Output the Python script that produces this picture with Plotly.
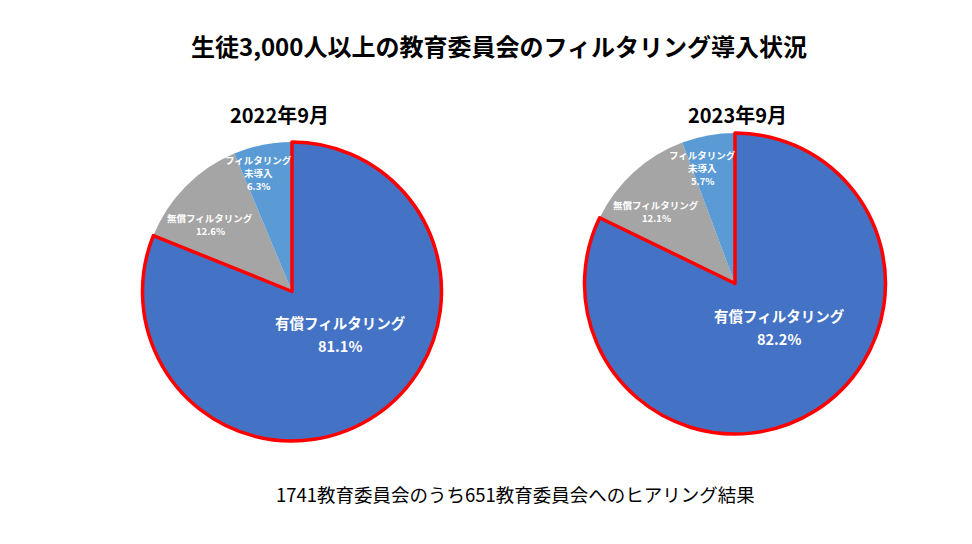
import plotly.graph_objects as go

W, H = 972, 544
OFF = 8  # page body margin in the browser
categories = ["有償フィルタリング", "無償フィルタリング", "フィルタリング未導入"]
values_2022 = [81.1, 12.6, 6.3]
values_2023 = [82.2, 12.1, 5.7]
periods = ["2022年9月", "2023年9月"]
colors = ["#4472C4", "#A5A5A5", "#5B9BD5"]

FONT = "Noto Sans CJK JP"

def px(x, y):
    return (x - OFF) / W, 1 - (y - OFF) / H

def dom(x0, x1, y0, y1):
    a, b = px(x0, y1)
    c, d = px(x1, y0)
    return dict(x=[a, c], y=[b, d])

domains = [dom(142, 442, 142, 441), dom(584, 886, 133, 434)]

fig = go.Figure()
for vals, dm in zip([values_2022, values_2023], domains):
    fig.add_trace(go.Pie(
        labels=categories, values=vals, domain=dm, sort=False,
        direction="clockwise", rotation=0, textinfo="none",
        marker=dict(colors=colors, line=dict(width=0)),
        showlegend=False, hoverinfo="label+percent",
    ))
    fig.add_trace(go.Pie(
        labels=categories, values=vals, domain=dm, sort=False,
        direction="clockwise", rotation=0, textinfo="none",
        marker=dict(colors=["rgba(0,0,0,0)"] * 3,
                    line=dict(color=["#FF0000", "rgba(0,0,0,0)", "rgba(0,0,0,0)"],
                              width=[3.5, 0, 0])),
        showlegend=False, hoverinfo="skip",
    ))

ann = []

def add(text, x, y, size, color="#000000", bold=False):
    xx, yy = px(x, y)
    t = f"<b>{text}</b>" if bold else text
    ann.append(dict(text=t, x=xx, y=yy, xref="paper", yref="paper",
                    xanchor="center", yanchor="middle", showarrow=False,
                    borderpad=0,
                    font=dict(family=FONT, size=size, color=color)))

add("生徒3,000人以上の教育委員会のフィルタリング導入状況", 499, 46, 24, bold=True)
add(periods[0], 279, 115, 20, bold=True)
add(periods[1], 737, 115, 20, bold=True)
add("1741教育委員会のうち651教育委員会へのヒアリング結果", 516, 494, 18.5)

labs = [
    [([categories[0], f"{values_2022[0]}%"], 340, [322, 345], 14.5),
     ([categories[1], f"{values_2022[1]}%"], 210, [218, 231], 9.5),
     (["フィルタリング", "未導入", f"{values_2022[2]}%"], 258, [160, 173, 186], 9.5)],
    [([categories[0], f"{values_2023[0]}%"], 779, [315, 338], 14.5),
     ([categories[1], f"{values_2023[1]}%"], 656, [205, 218], 9.5),
     (["フィルタリング", "未導入", f"{values_2023[2]}%"], 702, [155, 168, 181], 9.5)],
]
for grp in labs:
    for lines, x, ys, s in grp:
        for t, y in zip(lines, ys):
            add(t, x, y, s, color="#FFFFFF", bold=True)

fig.update_layout(
    width=W, height=H, margin=dict(l=0, r=0, t=0, b=0),
    paper_bgcolor="#FFFFFF", plot_bgcolor="#FFFFFF",
    annotations=ann, font=dict(family=FONT),
)
fig.write_html("out.html")
